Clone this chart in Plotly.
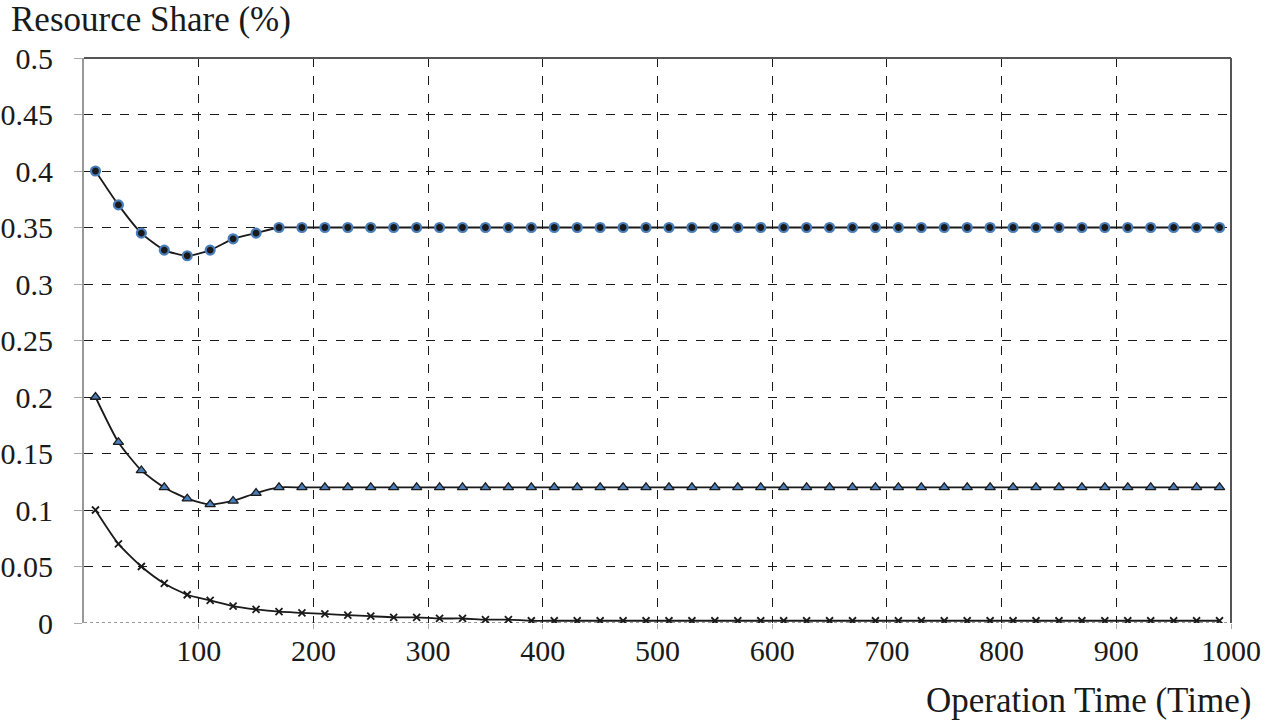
import plotly.graph_objects as go

# operation time samples (every 20 time units)
op_time = list(range(10, 1000, 20))

# resource share per series
share_circle = [0.400, 0.370, 0.345, 0.330, 0.325, 0.330, 0.340, 0.345, 0.350, 0.350,
                0.350, 0.350, 0.350, 0.350, 0.350, 0.350, 0.350, 0.350, 0.350, 0.350,
                0.350, 0.350, 0.350, 0.350, 0.350, 0.350, 0.350, 0.350, 0.350, 0.350,
                0.350, 0.350, 0.350, 0.350, 0.350, 0.350, 0.350, 0.350, 0.350, 0.350,
                0.350, 0.350, 0.350, 0.350, 0.350, 0.350, 0.350, 0.350, 0.350, 0.350]

share_triangle = [0.200, 0.160, 0.135, 0.120, 0.110, 0.105, 0.108, 0.115, 0.120, 0.120,
                  0.120, 0.120, 0.120, 0.120, 0.120, 0.120, 0.120, 0.120, 0.120, 0.120,
                  0.120, 0.120, 0.120, 0.120, 0.120, 0.120, 0.120, 0.120, 0.120, 0.120,
                  0.120, 0.120, 0.120, 0.120, 0.120, 0.120, 0.120, 0.120, 0.120, 0.120,
                  0.120, 0.120, 0.120, 0.120, 0.120, 0.120, 0.120, 0.120, 0.120, 0.120]

share_cross = [0.100, 0.070, 0.050, 0.035, 0.025, 0.020, 0.015, 0.012, 0.010, 0.009,
               0.008, 0.007, 0.006, 0.005, 0.005, 0.004, 0.004, 0.003, 0.003, 0.002,
               0.002, 0.002, 0.002, 0.002, 0.002, 0.002, 0.002, 0.002, 0.002, 0.002,
               0.002, 0.002, 0.002, 0.002, 0.002, 0.002, 0.002, 0.002, 0.002, 0.002,
               0.002, 0.002, 0.002, 0.002, 0.002, 0.002, 0.002, 0.002, 0.002, 0.002]

x_ticks = [100, 200, 300, 400, 500, 600, 700, 800, 900, 1000]
y_ticks = [0, 0.05, 0.1, 0.15, 0.2, 0.25, 0.3, 0.35, 0.4, 0.45, 0.5]
y_tick_text = ['0', '0.05', '0.1', '0.15', '0.2', '0.25', '0.3', '0.35', '0.4', '0.45', '0.5']

FONT = 'Liberation Serif'
BLUE = '#4a7ebb'
INK = '#1a1a1a'

fig = go.Figure()

# zero line is dotted gray, drawn below the data
fig.add_shape(type='line', xref='x', yref='y', x0=0, x1=1000, y0=0, y1=0,
              line=dict(color='#999999', width=2, dash='dot'), layer='below')

fig.add_trace(go.Scatter(
    x=op_time, y=share_cross, mode='lines+markers',
    line=dict(color=INK, width=1.8, shape='spline', smoothing=0.6),
    marker=dict(symbol='x-thin', size=7, line=dict(color=INK, width=1.8)),
    hoverinfo='skip'
))

fig.add_trace(go.Scatter(
    x=op_time, y=share_triangle, mode='lines+markers',
    line=dict(color=INK, width=1.8, shape='spline', smoothing=0.6),
    marker=dict(symbol='triangle-up', size=9, color=BLUE,
                line=dict(color=INK, width=1.3)),
    hoverinfo='skip'
))

fig.add_trace(go.Scatter(
    x=op_time, y=share_circle, mode='lines+markers',
    line=dict(color=INK, width=1.8, shape='spline', smoothing=0.6),
    marker=dict(symbol='circle', size=9, color=INK,
                line=dict(color=BLUE, width=2.2)),
    hoverinfo='skip'
))

# top and right border of the plot area
fig.add_shape(type='line', xref='paper', yref='paper', x0=0, x1=1, y0=1, y1=1,
              line=dict(color='#555555', width=2))
fig.add_shape(type='line', xref='paper', yref='paper', x0=1, x1=1, y0=0, y1=1,
              line=dict(color='#555555', width=2))

fig.update_layout(
    width=1267, height=726,
    margin=dict(l=84, r=36, t=58, b=103),
    paper_bgcolor='white', plot_bgcolor='white',
    showlegend=False,
    font=dict(family=FONT, color=INK, size=30),
    annotations=[
        dict(text='Resource Share (%)', xref='paper', yref='paper',
             x=0, y=1.0, xshift=-75, yshift=39, xanchor='left', yanchor='middle',
             showarrow=False, font=dict(family=FONT, size=35, color=INK)),
        dict(text='Operation Time (Time)', xref='paper', yref='paper',
             x=1.0, y=0, xshift=22, yshift=-77, xanchor='right', yanchor='middle',
             showarrow=False, font=dict(family=FONT, size=35, color=INK)),
    ]
)

fig.update_xaxes(
    range=[0, 1000], tickvals=x_ticks, automargin=False,
    showgrid=True, gridcolor=INK, griddash='dash', gridwidth=1.2,
    zeroline=False, showline=False,
    ticks='outside', ticklen=5, tickcolor='#aaaaaa',
    ticklabelstandoff=-4,
    tickfont=dict(family=FONT, size=30, color=INK)
)

fig.update_yaxes(
    range=[0, 0.5], tickvals=y_ticks, ticktext=y_tick_text, automargin=False,
    showgrid=True, gridcolor=INK, griddash='dash', gridwidth=1.2,
    zeroline=False, showline=True, linecolor='#999999', linewidth=2,
    ticks='outside', ticklen=8, tickcolor='#aaaaaa',
    ticklabelstandoff=15,
    tickfont=dict(family=FONT, size=30, color=INK)
)

# drop the default body margin so the figure sits at the page corner
fig.write_html('out.html', config={'displayModeBar': False},
               post_script="document.body.style.margin = '0';")
